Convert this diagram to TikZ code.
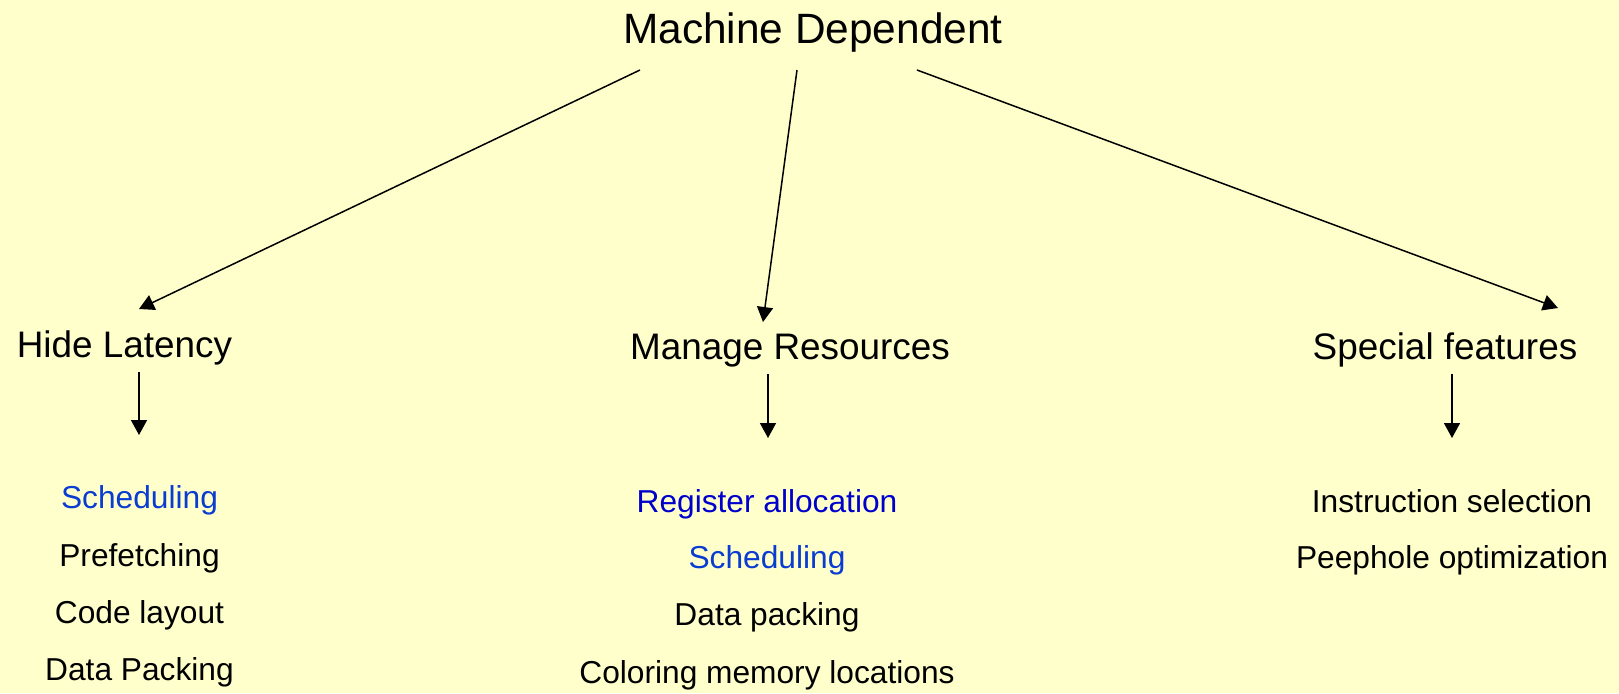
\documentclass[tikz,border=0pt]{standalone}
\usepackage{fontspec}
\setmainfont{Liberation Sans}
\usetikzlibrary{arrows.meta}
\definecolor{paper}{HTML}{FFFFCC}
\definecolor{deepblue}{HTML}{0000CC}
\definecolor{midblue}{HTML}{0A3CD2}
\begin{document}
\begin{tikzpicture}[>={Triangle[length=7.5pt,width=8pt]},x=0.5pt,y=-0.5pt,line width=0.75pt,
		heading/.style={anchor=base,inner sep=0pt,font=\fontsize{21.2pt}{25pt}\selectfont},
		branch/.style={anchor=base,inner sep=0pt,font=\fontsize{18.45pt}{22pt}\selectfont},
		task/.style={anchor=base,inner sep=0pt,font=\fontsize{15.85pt}{19pt}\selectfont}]
				%Nen
				\fill[paper] (0,0) rectangle (1619,693);
				%Goc
				\node[heading] (md) at (813,43) {Machine Dependent};
				%Nhanh
				\node[branch] (hl) at (124.5,357) {Hide Latency};
				\node[branch] (mr) at (790,359) {Manage Resources};
				\node[branch] (sf) at (1445,359) {Special features};
				%Cot 1
				\node[task,text=midblue] (hl1) at (139.5,508) {Scheduling};
				\node[task] (hl2) at (139.5,566) {Prefetching};
				\node[task] (hl3) at (139.5,623) {Code layout};
				\node[task] (hl4) at (139.5,680) {Data Packing};
				%Cot 2
				\node[task,text=deepblue] (mr1) at (767,512) {Register allocation};
				\node[task,text=midblue] (mr2) at (767,568) {Scheduling};
				\node[task] (mr3) at (767,625) {Data packing};
				\node[task] (mr4) at (767,683) {Coloring memory locations};
				%Cot 3
				\node[task] (sf1) at (1452,512) {Instruction selection};
				\node[task] (sf2) at (1452,568) {Peephole optimization};
				%Diem mui ten
				\coordinate (md-l) at (640,70);
				\coordinate (md-m) at (797,70);
				\coordinate (md-r) at (917,70);
				\coordinate (hl-in) at (139,309);
				\coordinate (mr-in) at (763,322);
				\coordinate (sf-in) at (1558,308);
				\coordinate (hl-out) at (139,372);
				\coordinate (mr-out) at (768,374);
				\coordinate (sf-out) at (1452,374);
				\coordinate (hl-end) at (139,435);
				\coordinate (mr-end) at (768,438);
				\coordinate (sf-end) at (1452,438);
				%Mui ten 1,2,3
				\draw[->] (md-l)--(hl-in);
				\draw[->] (md-m)--(mr-in);
				\draw[->] (md-r)--(sf-in);
				%Mui ten 4,5,6
				\draw[->] (hl-out)--(hl-end);
				\draw[->] (mr-out)--(mr-end);
				\draw[->] (sf-out)--(sf-end);
\end{tikzpicture}
\end{document}
